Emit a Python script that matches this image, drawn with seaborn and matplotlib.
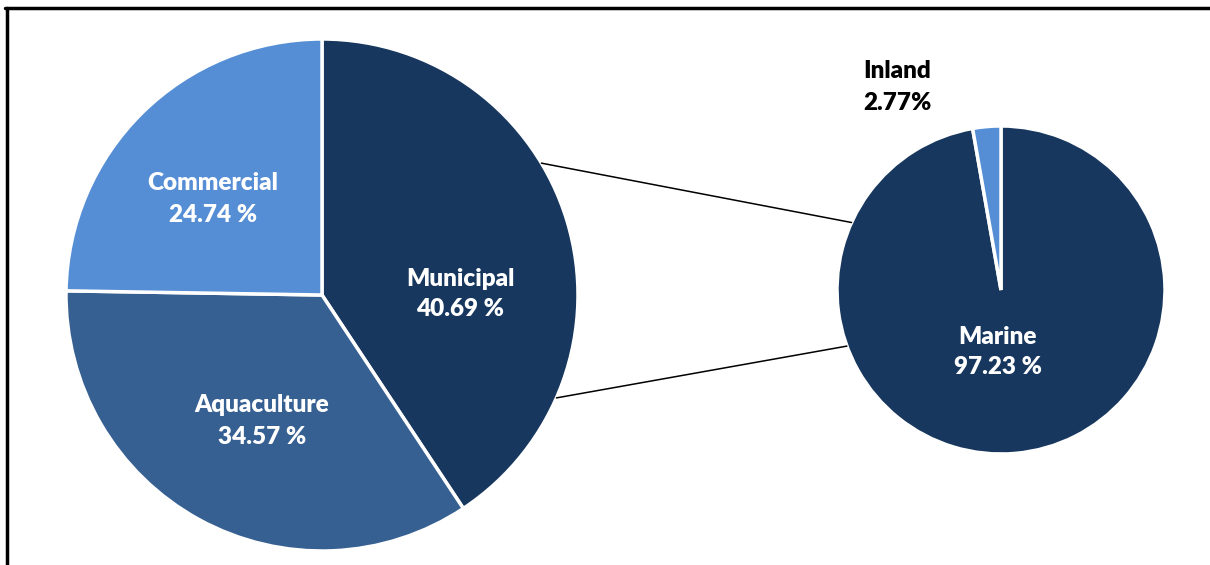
import numpy as np
import matplotlib.pyplot as plt
import seaborn as sns

# main pie: fish production by sector
sectors = ['Municipal', 'Aquaculture', 'Commercial']
shares = [40.69, 34.57, 24.74]
sector_labels = ['Municipal\n40.69 %', 'Aquaculture\n34.57 %', 'Commercial\n24.74 %']

# breakdown of municipal
sub_sectors = ['Marine', 'Inland']
sub_shares = [97.23, 2.77]
sub_labels = ['Marine\n97.23 %', 'Inland\n2.77%']

sns.set_theme(style='white')
plt.rcParams['font.family'] = ['Lato', 'DejaVu Sans']

navy, mid, light = '#17375E', '#376092', '#558ED5'
main_colors = [navy, mid, light]
sub_colors = [navy, light]

fig = plt.figure(figsize=(12.1, 5.65), dpi=100)
ax = fig.add_axes([0, 0, 1, 1])
ax.set_aspect('equal')

c1, r1 = (322, 270), 256
c2, r2 = (1001, 275), 164

ax.pie(shares, colors=main_colors, startangle=90, counterclock=False,
       center=c1, radius=r1, frame=True,
       wedgeprops=dict(edgecolor='white', linewidth=2.5))
ax.pie(sub_shares, colors=sub_colors, startangle=90, counterclock=False,
       center=c2, radius=r2, frame=True,
       wedgeprops=dict(edgecolor='white', linewidth=2.5))
ax.set_xlim(0, 1210)
ax.set_ylim(0, 565)
ax.axis('off')

# connector lines
for a1, a2 in [(31, 155.7), (-23.7, 200)]:
    p1 = (c1[0] + r1 * np.cos(np.radians(a1)), c1[1] + r1 * np.sin(np.radians(a1)))
    p2 = (c2[0] + r2 * np.cos(np.radians(a2)), c2[1] + r2 * np.sin(np.radians(a2)))
    ax.plot([p1[0], p2[0]], [p1[1], p2[1]], color='black', lw=1.1)

txt = dict(fontsize=17.5, fontweight='heavy', ha='center', va='center', linespacing=1.5)
label_pos = [(460, 271), (262, 144), (213, 366)]
for (x, y), lab in zip(label_pos, sector_labels):
    ax.text(x, y, lab, color='white', **txt)
ax.text(998, 213, sub_labels[0], color='white', **txt)
ax.text(897, 478, sub_labels[1], color='black', **txt)

# chart frame (cropped)
ax.plot([5, 1210], [557, 557], color='black', lw=2.5, clip_on=False)
ax.plot([7, 7], [0, 557], color='black', lw=2.5, clip_on=False)

fig.savefig('out.png', dpi=100)
